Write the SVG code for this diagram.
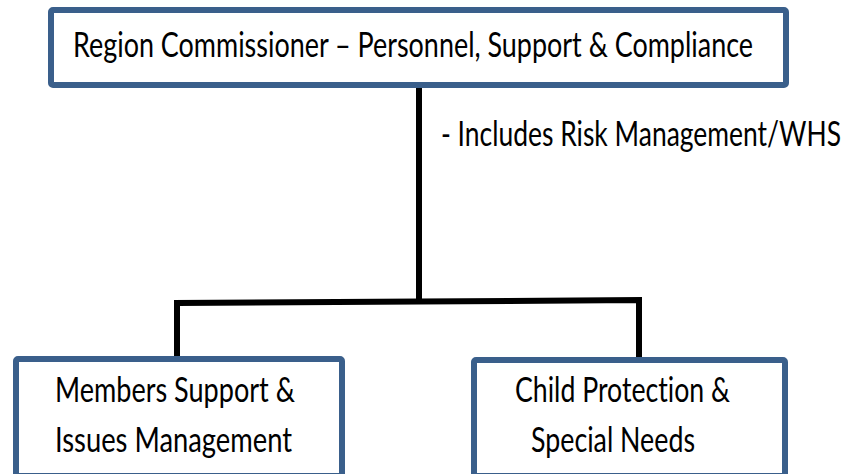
<svg xmlns="http://www.w3.org/2000/svg" width="848" height="474" viewBox="0 0 848 474">
<style>
.box{fill:#ffffff;stroke:#3A5F8B;stroke-width:6;}
.t{font-family:Lato,"Open Sans","Liberation Sans",sans-serif;font-size:28px;fill:#000000;font-variant-ligatures:none;}
.n{font-size:25px;}
.c{fill:none;stroke:#000000;stroke-width:6;stroke-linecap:butt;stroke-linejoin:miter;}
</style>
<rect width="848" height="474" fill="#ffffff"/>
<g id="connectors">
<line class="c" x1="419" y1="88" x2="419" y2="302"/>
<polyline class="c" points="177,358 177,303 419,301.5 639,300 639,358"/>
</g>
<g id="top">
<rect class="box" x="51" y="10" width="735" height="75" rx="2"/>
<g transform="scale(1,1.25)">
<text class="t" x="73" y="45.6" textLength="680" lengthAdjust="spacingAndGlyphs">Region Commissioner – Personnel, Support &amp; Compliance</text>
</g>
</g>
<g id="note">
<g transform="scale(1,1.4)">
<text class="t n" x="441" y="104.3" textLength="400" lengthAdjust="spacingAndGlyphs">- Includes Risk Management/WHS</text>
</g>
</g>
<g id="members">
<rect class="box" x="16" y="359" width="326" height="117" rx="2"/>
<g transform="scale(1,1.25)">
<text class="t" x="55" y="321.6" textLength="240" lengthAdjust="spacingAndGlyphs">Members Support &amp;</text>
<text class="t" x="55" y="361.6" textLength="237" lengthAdjust="spacingAndGlyphs">Issues Management</text>
</g>
</g>
<g id="child">
<rect class="box" x="474" y="360" width="311" height="116" rx="2"/>
<g transform="scale(1,1.25)">
<text class="t" x="515" y="321.6" textLength="215" lengthAdjust="spacingAndGlyphs">Child Protection &amp;</text>
<text class="t" x="531" y="361.6" textLength="164" lengthAdjust="spacingAndGlyphs">Special Needs</text>
</g>
</g>
</svg>
